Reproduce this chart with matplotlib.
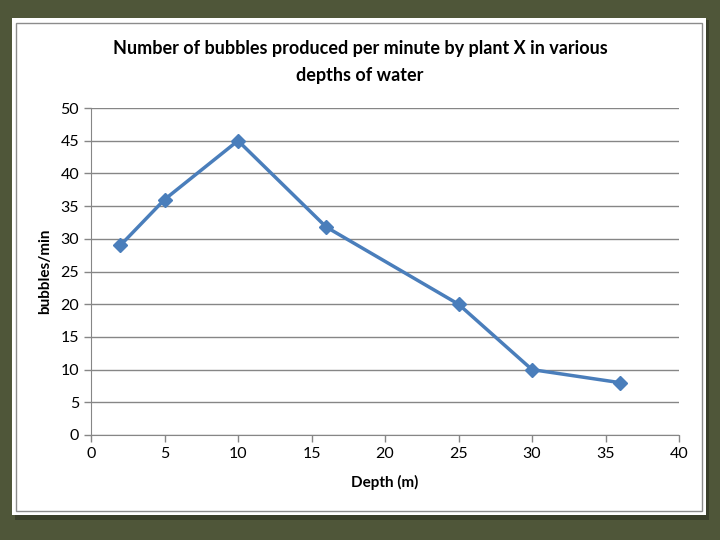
import numpy as np
import matplotlib.pyplot as plt
from matplotlib.patches import Rectangle

depth = [2, 5, 10, 16, 25, 30, 36]
bubbles = [29, 36, 45, 31.8, 20, 10, 8]
title = "Number of bubbles produced per minute by plant X in various\ndepths of water"

plt.rcParams['font.family'] = ['Lato', 'DejaVu Sans']

fig = plt.figure(figsize=(7.2, 5.4), dpi=100, facecolor='#4f5639')

# white chart panel with a soft shadow
W, H = 720, 540
fig.patches.append(Rectangle((15 / W, 1 - 520 / H), 694 / W, 500 / H, transform=fig.transFigure,
                             facecolor='#3a3f2a', edgecolor='none', zorder=0))
fig.patches.append(Rectangle((12 / W, 1 - 515 / H), 694 / W, 497 / H, transform=fig.transFigure,
                             facecolor='white', edgecolor='none', zorder=1))
fig.patches.append(Rectangle((16 / W, 1 - 511 / H), 686 / W, 488 / H, transform=fig.transFigure,
                             facecolor='white', edgecolor='#8c8c8c', linewidth=1, zorder=2))

ax = fig.add_axes([91 / W, 1 - 435 / H, 588 / W, 327 / H])
ax.set_zorder(3)
ax.patch.set_alpha(0)

ax.plot(depth, bubbles, color='#4a7ebb', linewidth=2.5, marker='D', markersize=7.5,
        markerfacecolor='#4a7ebb', markeredgecolor='#4a7ebb', zorder=3)

ax.set_xlim(0, 40)
ax.set_ylim(0, 50)
ax.set_xticks(np.arange(0, 41, 5))
ax.set_yticks(np.arange(0, 51, 5))
ax.grid(axis='y', color='#868686', linewidth=1)
ax.set_axisbelow(True)
for s in ['top', 'right']:
    ax.spines[s].set_visible(False)
for s in ['left', 'bottom']:
    ax.spines[s].set_color('#868686')
ax.tick_params(colors='#868686', labelcolor='black', labelsize=11.5, length=5, width=1)

ax.set_xlabel('Depth (m)', fontsize=11, fontweight='bold', labelpad=10)
ax.set_ylabel('bubbles/min', fontsize=11, fontweight='bold', labelpad=6)

fig.text(0.5, 1 - 62 / H, title, ha='center', va='center', fontsize=13, fontweight='bold',
         linespacing=1.7, zorder=4)

fig.savefig('out.png', dpi=100, facecolor=fig.get_facecolor())
